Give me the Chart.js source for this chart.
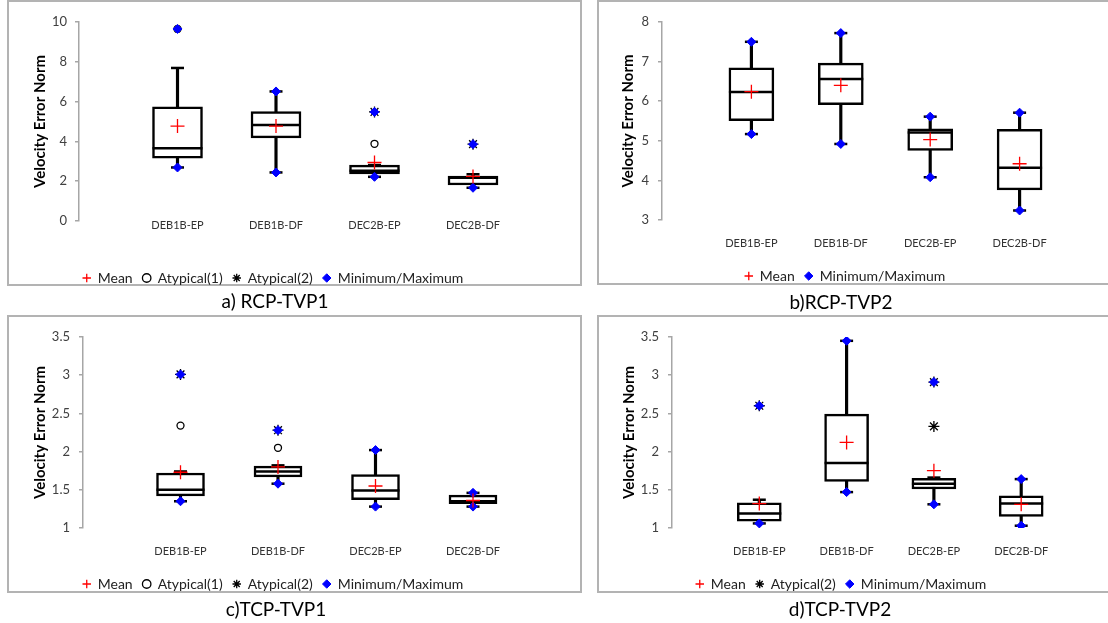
<!DOCTYPE html>
<html>
<head>
<meta charset="utf-8">
<script src="https://cdn.jsdelivr.net/npm/chart.js@4.4.1/dist/chart.umd.min.js"></script>
<style>
  html, body { margin: 0; padding: 0; background: #fff; width: 1108px; height: 623px; overflow: hidden; }
  .frame { position: absolute; box-sizing: border-box; border: 2px solid #b3b3b3; }
  .holder { position: absolute; }
  .caption { position: absolute; font-family: Lato, "Open Sans", sans-serif; font-size: 19px; color: #000;
             transform: translate(-50%, -50%); white-space: nowrap; }
</style>
</head>
<body>
<div class="frame" style="left:7px;top:0;width:575px;height:286px"></div>
<div class="frame" style="left:597px;top:0;width:530px;height:285px"></div>
<div class="frame" style="left:7px;top:315px;width:575px;height:278px"></div>
<div class="frame" style="left:597px;top:315px;width:530px;height:278px"></div>

<div class="holder"><canvas id="rcp1"></canvas></div>
<div class="holder"><canvas id="rcp2"></canvas></div>
<div class="holder"><canvas id="tcp1"></canvas></div>
<div class="holder"><canvas id="tcp2"></canvas></div>

<div class="caption" style="left:275px;top:300px">a) RCP-TVP1</div>
<div class="caption" style="left:841px;top:301px">b)RCP-TVP2</div>
<div class="caption" style="left:276px;top:608px">c)TCP-TVP1</div>
<div class="caption" style="left:840px;top:608px">d)TCP-TVP2</div>

<script>
const categories = ['DEB1B-EP', 'DEB1B-DF', 'DEC2B-EP', 'DEC2B-DF'];

// a) RCP-TVP1
const rcp1Min = [2.69, 2.44, 2.22, 1.67];
const rcp1Q1 = [3.16, 4.18, 2.36, 1.81];
const rcp1Median = [3.65, 4.83, 2.53, 2.17];
const rcp1Q3 = [5.74, 5.50, 2.81, 2.26];
const rcp1Whisker = [7.69, 6.51, 2.81, 2.35];
const rcp1Max = [9.65, 6.51, 5.48, 3.86];
const rcp1Mean = [4.77, 4.77, 2.94, 2.24];
const rcp1Atyp1 = [[9.65], [], [3.88], []];
const rcp1Atyp2 = [[], [], [5.48], [3.86]];

// b) RCP-TVP2
const rcp2Min = [5.17, 4.92, 4.08, 3.24];
const rcp2Q1 = [5.51, 5.91, 4.76, 3.76];
const rcp2Median = [6.23, 6.56, 5.21, 4.32];
const rcp2Q3 = [6.84, 6.96, 5.30, 5.29];
const rcp2Whisker = [7.50, 7.72, 5.61, 5.71];
const rcp2Max = [7.50, 7.72, 5.61, 5.71];
const rcp2Mean = [6.24, 6.40, 5.03, 4.42];

// c) TCP-TVP1
const tcp1Min = [1.35, 1.58, 1.28, 1.28];
const tcp1Q1 = [1.42, 1.67, 1.37, 1.32];
const tcp1Median = [1.50, 1.74, 1.49, 1.35];
const tcp1Q3 = [1.72, 1.81, 1.70, 1.43];
const tcp1Whisker = [1.74, 1.82, 2.02, 1.46];
const tcp1Max = [3.01, 2.28, 2.02, 1.46];
const tcp1Mean = [1.73, 1.80, 1.55, 1.36];
const tcp1Atyp1 = [[2.34], [2.05], [], []];
const tcp1Atyp2 = [[3.01], [2.28], [], []];

// d) TCP-TVP2
const tcp2Min = [1.06, 1.47, 1.31, 1.03];
const tcp2Q1 = [1.09, 1.61, 1.51, 1.15];
const tcp2Median = [1.19, 1.85, 1.58, 1.32];
const tcp2Q3 = [1.33, 2.49, 1.65, 1.42];
const tcp2Whisker = [1.37, 3.45, 1.66, 1.64];
const tcp2Max = [2.60, 3.45, 2.91, 1.64];
const tcp2Mean = [1.32, 2.12, 1.75, 1.31];
const tcp2Atyp2 = [[2.60], [], [2.91, 2.33], []];

const legendOrder = ['Mean', 'Atypical(1)', 'Atypical(2)', 'Minimum/Maximum'];

Chart.defaults.font.family = 'Lato, "Open Sans", sans-serif';
Chart.defaults.animation = false;

function pts(values) {
    return values.map((v, i) => ({x: i + 1, y: v}));
}
function ptsList(lists) {
    const out = [];
    lists.forEach((vals, i) => vals.forEach(v => out.push({x: i + 1, y: v})));
    return out;
}

// box = where things sit on the page (px), s = the panel's numbers
function drawPanel(id, box, s) {
    const holder = document.getElementById(id).parentNode;
    const legPad = 10, legFont = 14;
    const titleFont = 15;
    const axisX = box.axisX - box.left;
    const plotTop = box.plotTop - box.top;
    const plotBottom = box.plotBottom - box.top;
    const legX = box.legendX - box.left;
    const legY = box.legendY - box.top;
    const pl = (box.titleX - box.left) - titleFont * 0.6 - 4;
    const right = 2 * legX - pl;
    const pr = box.width - right;
    const xH = legY - plotBottom - legPad - legFont / 2;
    const H = plotBottom + xH + legFont + legPad + 10;
    holder.style.left = box.left + 'px';
    holder.style.top = box.top + 'px';
    holder.style.width = box.width + 'px';
    holder.style.height = H + 'px';
    const xMax = (right - axisX) / box.spacing;

    const datasets = [
        {type: 'line', label: 'Mean', data: pts(s.mean), showLine: false, pointStyle: 'cross',
         pointRadius: 7, borderColor: '#ff0000', backgroundColor: '#ff0000', pointBorderWidth: 1.3, order: 0},
        {type: 'line', label: 'Minimum/Maximum', data: pts(s.min).concat(pts(s.max)), showLine: false,
         pointStyle: 'rectRot', pointRadius: 4.5, borderColor: '#0000ff', backgroundColor: '#0000ff',
         pointBorderWidth: 1, order: 1},
        {type: 'bar', label: 'box', data: s.q1.map((v, i) => ({x: i + 1, y: [v, s.q3[i]]})),
         backgroundColor: '#fff', borderColor: '#000', borderWidth: 2.5, borderSkipped: false,
         barThickness: box.boxW, grouped: false, order: 4},
        {type: 'bar', label: 'whisker', data: s.min.map((v, i) => ({x: i + 1, y: [v, s.whisker[i]]})),
         backgroundColor: '#000', borderWidth: 0, barThickness: 2.5, grouped: false, order: 5},
        {type: 'line', label: 'median', data: pts(s.median), showLine: false, pointStyle: 'line',
         pointRadius: box.boxW / 2, borderColor: '#000', pointBorderWidth: 2.5, order: 3},
        {type: 'line', label: 'cap', data: pts(s.min).concat(pts(s.whisker)), showLine: false, pointStyle: 'line',
         pointRadius: 6.5, borderColor: '#000', pointBorderWidth: 2.5, order: 3},
    ];
    if (s.atyp1) {
        datasets.push({type: 'line', label: 'Atypical(1)', data: ptsList(s.atyp1), showLine: false,
            pointStyle: 'circle', pointRadius: 3.5, borderColor: '#000', backgroundColor: '#fff',
            pointBorderWidth: 1.3, order: 2});
    }
    if (s.atyp2) {
        datasets.push({type: 'line', label: 'Atypical(2)', data: ptsList(s.atyp2), showLine: false,
            pointStyle: 'star', pointRadius: 5.5, borderColor: '#000', backgroundColor: '#000',
            pointBorderWidth: 1.3, order: 2});
    }

    return new Chart(id, {
        type: 'bar',
        data: {datasets: datasets},
        options: {
            responsive: true,
            maintainAspectRatio: false,
            events: [],
            layout: {autoPadding: false, padding: {left: pl, right: pr, top: plotTop, bottom: 0}},
            plugins: {
                tooltip: {enabled: false},
                legend: {
                    position: 'bottom',
                    labels: {
                        usePointStyle: true,
                        boxWidth: 8,
                        boxHeight: 6,
                        padding: legPad,
                        color: '#222',
                        font: {size: legFont},
                        filter: item => s.legend.includes(item.text),
                        sort: (a, b) => legendOrder.indexOf(a.text) - legendOrder.indexOf(b.text)
                    }
                }
            },
            scales: {
                x: {
                    type: 'linear',
                    min: 0,
                    max: xMax,
                    offset: false,
                    grid: {display: false, drawTicks: false},
                    border: {display: false},
                    afterBuildTicks: sc => { sc.ticks = categories.map((c, i) => ({value: i + 1})); },
                    afterFit: sc => { sc.height = xH; },
                    ticks: {
                        autoSkip: false,
                        maxRotation: 0,
                        padding: box.catY - box.plotBottom - 6.6,
                        color: '#333',
                        font: {size: 11},
                        callback: v => categories[v - 1]
                    }
                },
                y: {
                    min: box.yMin,
                    max: box.yMax,
                    grid: {drawOnChartArea: false, drawTicks: true, tickLength: 4, color: '#a6a6a6', lineWidth: 1.5},
                    border: {display: true, color: '#a6a6a6', width: 1.5},
                    afterFit: sc => { sc.width = axisX - pl; },
                    ticks: {
                        stepSize: box.step,
                        padding: box.labelGap - 4,
                        color: '#404040',
                        font: {size: 13},
                        callback: v => String(v)
                    },
                    title: {
                        display: true,
                        text: 'Velocity Error Norm',
                        color: '#000',
                        font: {size: titleFont, weight: 'bold'},
                        padding: {top: 4, bottom: 0}
                    }
                }
            }
        }
    });
}

drawPanel('rcp1',
    {left: 7, top: 0, width: 575, axisX: 79, plotTop: 22, plotBottom: 221, spacing: 98.5,
     legendX: 273, legendY: 278, titleX: 40, labelGap: 12, catY: 225, yMin: 0, yMax: 10, step: 2, boxW: 50},
    {min: rcp1Min, q1: rcp1Q1, median: rcp1Median, q3: rcp1Q3, whisker: rcp1Whisker, max: rcp1Max,
     mean: rcp1Mean, atyp1: rcp1Atyp1, atyp2: rcp1Atyp2,
     legend: ['Mean', 'Atypical(1)', 'Atypical(2)', 'Minimum/Maximum']});

drawPanel('rcp2',
    {left: 597, top: 0, width: 511, axisX: 662, plotTop: 22, plotBottom: 220, spacing: 89.4,
     legendX: 845, legendY: 276, titleX: 628, labelGap: 13, catY: 243, yMin: 3, yMax: 8, step: 1, boxW: 45},
    {min: rcp2Min, q1: rcp2Q1, median: rcp2Median, q3: rcp2Q3, whisker: rcp2Whisker, max: rcp2Max,
     mean: rcp2Mean, legend: ['Mean', 'Minimum/Maximum']});

drawPanel('tcp1',
    {left: 7, top: 315, width: 575, axisX: 83, plotTop: 337, plotBottom: 528, spacing: 97.5,
     legendX: 273, legendY: 584, titleX: 40, labelGap: 13, catY: 551, yMin: 1, yMax: 3.5, step: 0.5, boxW: 48},
    {min: tcp1Min, q1: tcp1Q1, median: tcp1Median, q3: tcp1Q3, whisker: tcp1Whisker, max: tcp1Max,
     mean: tcp1Mean, atyp1: tcp1Atyp1, atyp2: tcp1Atyp2,
     legend: ['Mean', 'Atypical(1)', 'Atypical(2)', 'Minimum/Maximum']});

drawPanel('tcp2',
    {left: 597, top: 315, width: 511, axisX: 672, plotTop: 337, plotBottom: 528, spacing: 87.3,
     legendX: 841, legendY: 584, titleX: 629, labelGap: 13, catY: 551, yMin: 1, yMax: 3.5, step: 0.5, boxW: 44},
    {min: tcp2Min, q1: tcp2Q1, median: tcp2Median, q3: tcp2Q3, whisker: tcp2Whisker, max: tcp2Max,
     mean: tcp2Mean, atyp2: tcp2Atyp2, legend: ['Mean', 'Atypical(2)', 'Minimum/Maximum']});
</script>
</body>
</html>
